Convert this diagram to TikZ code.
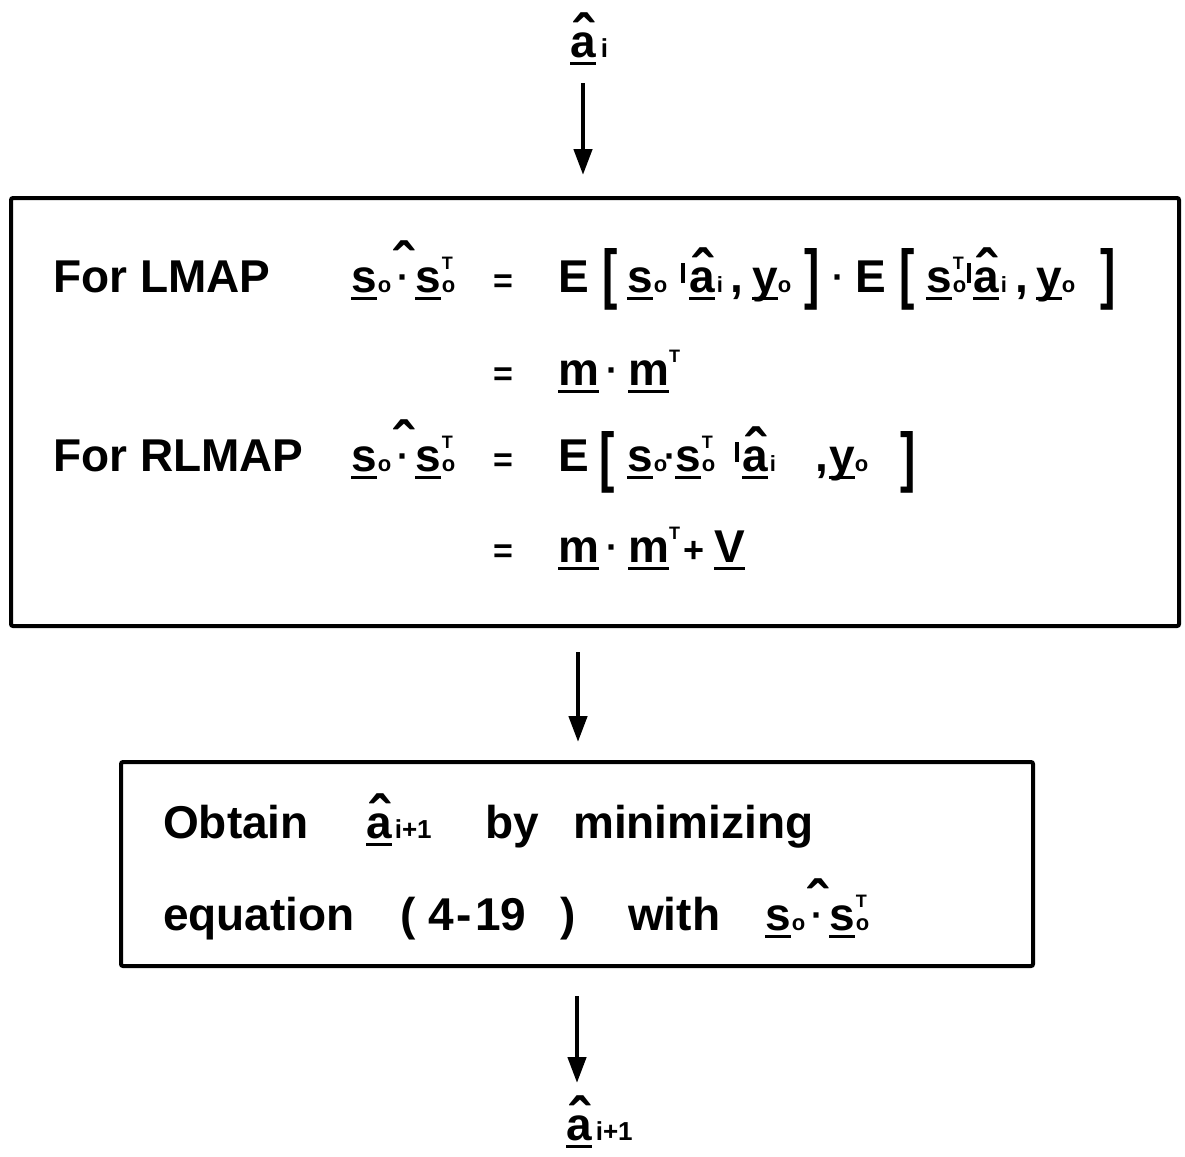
\documentclass[tikz,border=0pt]{standalone}
\usepackage{graphicx}
\usepackage{fontspec}
\setmainfont{Liberation Sans}
\usetikzlibrary{arrows.meta}
\newcommand\ul[1]{\sbox0{#1}\rlap{\rule[-8pt]{\wd0}{3.5pt}}\usebox0}
\newcommand\sbs[1]{{\fontsize{22}{22}\selectfont #1}}
\newcommand\sbl[1]{{\fontsize{26}{26}\selectfont #1}}
\newcommand\supT{\raisebox{23pt}{\fontsize{18}{18}\selectfont T}}
\newcommand\so{\ul{s}\kern1pt\sbs{o}}
\newcommand\soT{\ul{s}\kern1pt\rlap{\supT}\sbs{o}}
\newcommand\hatg{{\fontsize{60}{60}\selectfont\char"02C6}}
\newcommand\cdt{\raisebox{3pt}{\fontsize{36}{36}\selectfont\textperiodcentered}}
\newcommand\ha{\sbox0{a}\rlap{\makebox[\wd0]{\hatg}}\ul{a}}
\newcommand\hdot{\kern6pt\sbox0{\cdt}\rlap{\makebox[\wd0]{\raisebox{7pt}{\hatg}}}\usebox0\kern6pt}
\newcommand\vbar{\rule[9pt]{3.5pt}{20pt}}
\newcommand\eqs{{\fontsize{34}{34}\selectfont =}}
\newcommand\pls{{\fontsize{36}{36}\selectfont +}}
\newcommand\lbr{\raisebox{-4pt}{\scalebox{1}[1.44]{[}}}
\newcommand\rbr{\raisebox{-4pt}{\scalebox{1}[1.44]{]}}}
\begin{document}
\begin{tikzpicture}[x=1pt,y=-1pt,
  txt/.style={anchor=base west, inner sep=0pt, font=\fontsize{46}{55}\selectfont\bfseries},
  frame/.style={draw, line width=4pt, rounded corners=2pt, inner sep=0pt},
  arr/.style={line width=4.5pt, -{Triangle[width=18pt,length=26pt]}}]
\useasboundingbox (0,0) rectangle (1185,1156);
% boxes
\node[frame, minimum width=1168pt, minimum height=428pt] (box1) at (595,412) {};
\node[frame, minimum width=912pt, minimum height=204pt] (box2) at (577,864) {};
% top and bottom labels
\node[txt] (ai) at (570,57) {\ha\kern5pt\sbl{i}};
\node[txt] (aj) at (566,1140) {\ha\kern4pt\sbl{i+1}};
% row 1
\node[txt] (l1) at (53,292) {For LMAP};
\node[txt] (s1) at (351,292) {\so\hdot\soT};
\node[txt] (e1) at (493,292) {\eqs};
\node[txt] (r1a) at (558,292) {E};
\node[txt] (r1b) at (602,292) {\lbr};
\node[txt] (r1c) at (627,292) {\so};
\node[txt] (r1d) at (681,292) {\vbar};
\node[txt] (r1e) at (689,292) {\ha\kern2pt\sbs{i}};
\node[txt] (r1f) at (730,292) {,};
\node[txt] (r1g) at (752,292) {\ul{y}\sbs{o}};
\node[txt] (r1h) at (804,292) {\rbr};
\node[txt] (r1i) at (832,292) {\cdt};
\node[txt] (r1j) at (855,292) {E};
\node[txt] (r1k) at (899,292) {\lbr};
\node[txt] (r1l) at (926,292) {\soT};
\node[txt] (r1m) at (967,292) {\vbar};
\node[txt] (r1n) at (973,292) {\ha\kern2pt\sbs{i}};
\node[txt] (r1o) at (1015,292) {,};
\node[txt] (r1p) at (1036,292) {\ul{y}\sbs{o}};
\node[txt] (r1q) at (1100,292) {\rbr};
% row 2
\node[txt] (e2) at (493,385) {\eqs};
\node[txt] (r2a) at (558,385) {\ul{m}};
\node[txt] (r2b) at (606,385) {\cdt};
\node[txt] (r2c) at (628,385) {\ul{m}\supT};
% row 3
\node[txt] (l3) at (53,471) {For RLMAP};
\node[txt] (s3) at (351,471) {\so\hdot\soT};
\node[txt] (e3) at (493,471) {\eqs};
\node[txt] (r3a) at (558,471) {E};
\node[txt] (r3b) at (599,471) {\raisebox{-8pt}{\scalebox{1}[1.44]{[}}};
\node[txt] (r3c) at (627,471) {\so};
\node[txt] (r3d) at (664,471) {\cdt};
\node[txt] (r3e) at (675,471) {\soT};
\node[txt] (r3f) at (735,471) {\vbar};
\node[txt] (r3g) at (742,471) {\ha\kern2pt\sbs{i}};
\node[txt] (r3h) at (815,471) {,};
\node[txt] (r3i) at (829,471) {\ul{y}\sbs{o}};
\node[txt] (r3j) at (900,471) {\raisebox{-8pt}{\scalebox{1}[1.44]{]}}};
% row 4
\node[txt] (e4) at (493,562) {\eqs};
\node[txt] (r4a) at (558,562) {\ul{m}};
\node[txt] (r4b) at (606,562) {\cdt};
\node[txt] (r4c) at (628,562) {\ul{m}\supT};
\node[txt] (r4d) at (683,562) {\pls};
\node[txt] (r4e) at (714,562) {\ul{V}};
% box 2 line 1
\node[txt] (o1) at (163,838) {Obtain};
\node[txt] (o2) at (366,838) {\ha\kern3pt\sbl{i+1}};
\node[txt] (o3) at (485,838) {by};
\node[txt] (o4) at (573,838) {minimizing};
% box 2 line 2
\node[txt] (q1) at (163,930) {equation};
\node[txt] (q2) at (400,930) {(};
\node[txt] (q3) at (428,930) {4\kern3pt-\kern3pt19};
\node[txt] (q4) at (560,930) {)};
\node[txt] (q5) at (628,930) {with};
\node[txt] (q6) at (765,930) {\so\hdot\soT};
% arrows
\coordinate (ax) at (583,0);
\coordinate (bx) at (578,0);
\coordinate (cx) at (577,0);
\draw[arr, shorten <=18pt, shorten >=21pt] (ai.south -| ax) -- (box1.north -| ax);
\draw[arr, shorten <=24pt, shorten >=18pt] (box1.south -| bx) -- (box2.north -| bx);
\draw[arr, shorten <=28pt, shorten >=12pt] (box2.south -| cx) -- (aj.north -| cx);
\end{tikzpicture}
\end{document}
